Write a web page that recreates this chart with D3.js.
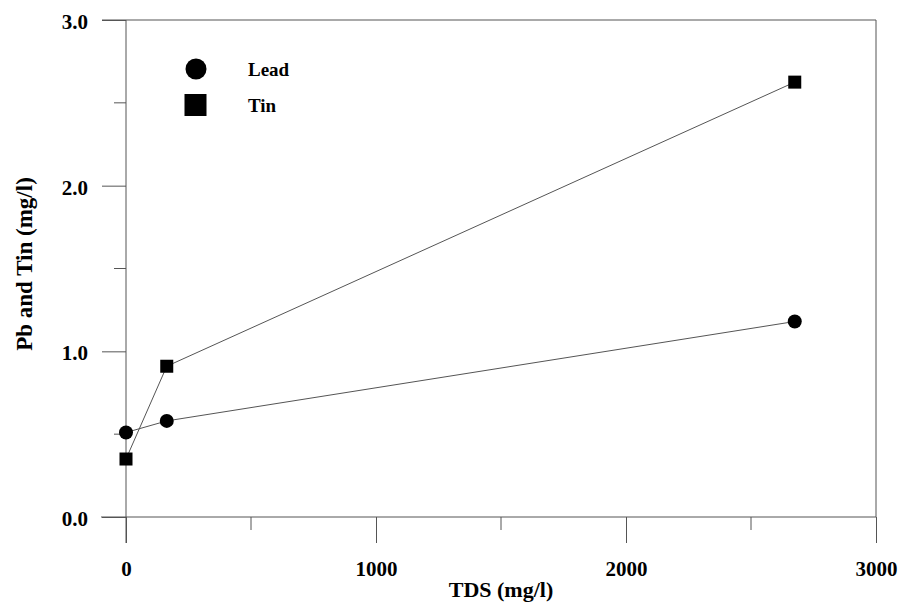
<!DOCTYPE html>
<html><head><meta charset="utf-8">
<script src="https://cdn.jsdelivr.net/npm/d3@7"></script>
<style>body{margin:0;background:#fff}svg{display:block}text{font-family:"Liberation Serif","Times New Roman",serif;font-weight:bold;fill:#000}</style>
</head><body>
<svg id="c" width="899" height="603"></svg>
<script>
const tds = [0, 163, 2675];
const lead = [0.51, 0.58, 1.18];
const tin = [0.35, 0.91, 2.625];
const xTicks = [0, 1000, 2000, 3000];
const xMinor = [500, 1500, 2500];
const yTicks = [0.0, 1.0, 2.0, 3.0];
const yMinor = [0.5, 1.5, 2.5];
const seriesNames = ["Lead", "Tin"];

const svg = d3.select("#c");
const x = d3.scaleLinear().domain([0, 3000]).range([126, 876]);
const y = d3.scaleLinear().domain([0, 3]).range([517, 20]);
const axisColor = "#555";

// frame
svg.append("line").attr("x1", 101).attr("x2", 876).attr("y1", y(0)).attr("y2", y(0)).attr("stroke", axisColor);
svg.append("line").attr("x1", 102).attr("x2", 876).attr("y1", y(3)).attr("y2", y(3)).attr("stroke", axisColor);
svg.append("line").attr("x1", 876).attr("x2", 876).attr("y1", y(3)).attr("y2", y(0)).attr("stroke", axisColor);

// x axis
const xAxis = d3.axisBottom(x).tickValues(xTicks).tickFormat(d3.format("d")).tickSize(26).tickPadding(18).tickSizeOuter(0);
const gx = svg.append("g").attr("transform", `translate(0,${y(0)})`).call(xAxis);
gx.select(".domain").remove();
gx.selectAll("line").attr("stroke", axisColor);
gx.selectAll("text").style("font-size", "21px").attr("fill", "#000");
svg.append("g").selectAll("line").data(xMinor).join("line")
  .attr("x1", d => x(d)).attr("x2", d => x(d)).attr("y1", y(0)).attr("y2", y(0) + 13).attr("stroke", axisColor);

// y axis
const yAxis = d3.axisLeft(y).tickValues(yTicks).tickFormat(d3.format(".1f")).tickSize(24).tickPadding(14).tickSizeOuter(0);
const gy = svg.append("g").attr("transform", `translate(${x(0)},0)`).call(yAxis);
gy.select(".domain").remove();
gy.selectAll("line").attr("stroke", axisColor);
gy.selectAll("text").style("font-size", "21px").attr("fill", "#000").attr("dy", "0.4em");
svg.append("line").attr("x1", x(0)).attr("x2", x(0)).attr("y1", y(3)).attr("y2", y(0) + 26).attr("stroke", axisColor);
svg.append("g").selectAll("line").data(yMinor).join("line")
  .attr("x1", x(0) - 12).attr("x2", x(0)).attr("y1", d => y(d)).attr("y2", d => y(d)).attr("stroke", axisColor);

// titles
svg.append("text").attr("x", 501).attr("y", 597).attr("text-anchor", "middle").style("font-size", "22px").text("TDS (mg/l)");
svg.append("text").attr("transform", "translate(32,264) rotate(-90)").attr("text-anchor", "middle").style("font-size", "23px").text("Pb and Tin (mg/l)");

const line = d3.line().x(d => x(d[0])).y(d => y(d[1]));
const leadPts = tds.map((t, i) => [t, lead[i]]);
const tinPts = tds.map((t, i) => [t, tin[i]]);
svg.append("path").attr("d", line(leadPts)).attr("fill", "none").attr("stroke", "#555").attr("stroke-width", 1);
svg.append("path").attr("d", line(tinPts)).attr("fill", "none").attr("stroke", "#555").attr("stroke-width", 1);

svg.append("g").selectAll("circle").data(leadPts).join("circle")
  .attr("cx", d => x(d[0])).attr("cy", d => y(d[1])).attr("r", 7).attr("fill", "#000");
svg.append("g").selectAll("rect").data(tinPts).join("rect")
  .attr("x", d => x(d[0]) - 6.5).attr("y", d => y(d[1]) - 6.5).attr("width", 13).attr("height", 13).attr("fill", "#000");

// legend
svg.append("circle").attr("cx", 196).attr("cy", 69).attr("r", 10.5).attr("fill", "#000");
svg.append("rect").attr("x", 184.5).attr("y", 94).attr("width", 22).attr("height", 22).attr("fill", "#000");
svg.append("text").attr("x", 248).attr("y", 76).style("font-size", "19px").text(seriesNames[0]);
svg.append("text").attr("x", 248).attr("y", 112).style("font-size", "19px").text(seriesNames[1]);
</script>
</body></html>
